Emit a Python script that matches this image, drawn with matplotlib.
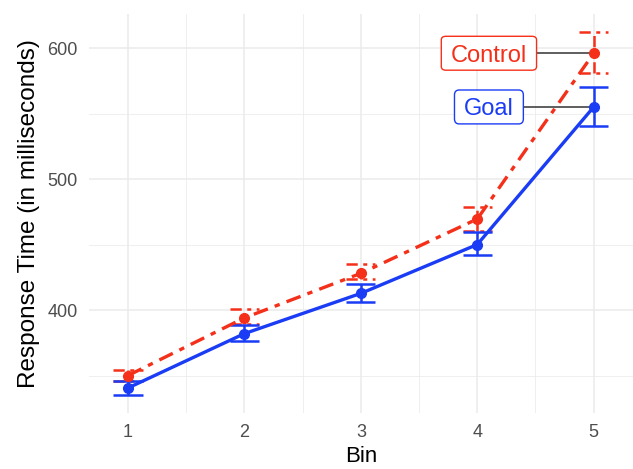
import matplotlib.pyplot as plt
from matplotlib.patches import FancyBboxPatch
import numpy as np

plt.rcParams['font.family'] = ['Liberation Sans', 'DejaVu Sans']

bins = [1, 2, 3, 4, 5]
control_mean = [350, 394, 428, 469.5, 596]
control_lo = [346, 389, 424, 460, 581]
control_hi = [354, 400.5, 435, 479, 612]
goal_mean = [340.5, 382, 412.7, 450, 555]
goal_lo = [335.5, 376, 406, 442, 540.5]
goal_hi = [345.5, 388.5, 420, 459.3, 570]
groups = ['Control', 'Goal']

red = '#f5301a'
blue = '#1a3cf5'
grid_col = '#ebebeb'

fig = plt.figure(figsize=(6.33, 4.69), dpi=100)
ax = fig.add_axes([88.7 / 633, (469 - 412.6) / 469, (633 - 88.7) / 633, (412.6 - 14.2) / 469])

# ggplot-like minimal theme
for s in ax.spines.values():
    s.set_visible(False)
ax.set_xlim(0.6625, 5.3375)
ax.set_ylim(321.7, 625.8)
ax.set_xticks(bins)
ax.set_yticks([400, 500, 600])
ax.set_xticks([1.5, 2.5, 3.5, 4.5], minor=True)
ax.set_yticks([350, 450, 550], minor=True)
ax.grid(which='major', color=grid_col, lw=1.1)
ax.grid(which='minor', color=grid_col, lw=0.55)
ax.set_axisbelow(True)
ax.tick_params(which='both', length=0, labelsize=13, labelcolor='#4d4d4d', pad=8)
ax.set_xlabel('Bin', fontsize=16, labelpad=4)
ax.set_ylabel('Response Time (in milliseconds)', fontsize=17.5, labelpad=5)

dotdash = (0, (4.5, 2.2, 1.6, 2.2))
hw = 0.125  # half width of error bar caps

series = [
    (control_mean, control_lo, control_hi, red, dotdash),
    (goal_mean, goal_lo, goal_hi, blue, '-'),
]
for mean, lo, hi, col, ls in series:
    ax.vlines(bins, lo, hi, colors=col, lw=1.8, linestyles=ls, zorder=3)
    ax.hlines(lo, np.array(bins) - hw, np.array(bins) + hw, colors=col, lw=1.8, linestyles=ls, zorder=3)
    ax.hlines(hi, np.array(bins) - hw, np.array(bins) + hw, colors=col, lw=1.8, linestyles=ls, zorder=3)
    ax.plot(bins, mean, color=col, lw=2.4, linestyle=ls, zorder=4)
    ax.plot(bins, mean, 'o', color=col, ms=7, zorder=5)

# labels at the last bin (geom_label_repel look)
fs = 17
fs_px = fs * fig.dpi / 72
cap = 0.716 * fs_px
padx, pady = 9.5, 8.5
label_x = 4.1
to_data = ax.transData.inverted()
renderer = fig.canvas.get_renderer()
for name, mean, col in zip(groups, [control_mean, goal_mean], [red, blue]):
    px, py = ax.transData.transform((label_x, mean[-1]))
    _, ybase = to_data.transform((px, py - cap / 2))
    t = ax.text(label_x, ybase, name, fontsize=fs, color=col, ha='center', va='baseline', zorder=7)
    bb = t.get_window_extent(renderer)
    (x0, y0) = to_data.transform((bb.x0 - padx, py - cap / 2 - pady))
    (x1, y1) = to_data.transform((bb.x1 + padx, py + cap / 2 + pady))
    box = FancyBboxPatch((x0, y0), x1 - x0, y1 - y0, boxstyle='round,pad=0,rounding_size=0.04',
                         mutation_aspect=(y1 - y0) / (x1 - x0) * 2.2,
                         fc='white', ec=col, lw=1, zorder=6)
    ax.add_patch(box)
    ax.plot([x1, bins[-1]], [mean[-1], mean[-1]], color='#333333', lw=1.1, zorder=4)

fig.savefig('out.png', dpi=100)
